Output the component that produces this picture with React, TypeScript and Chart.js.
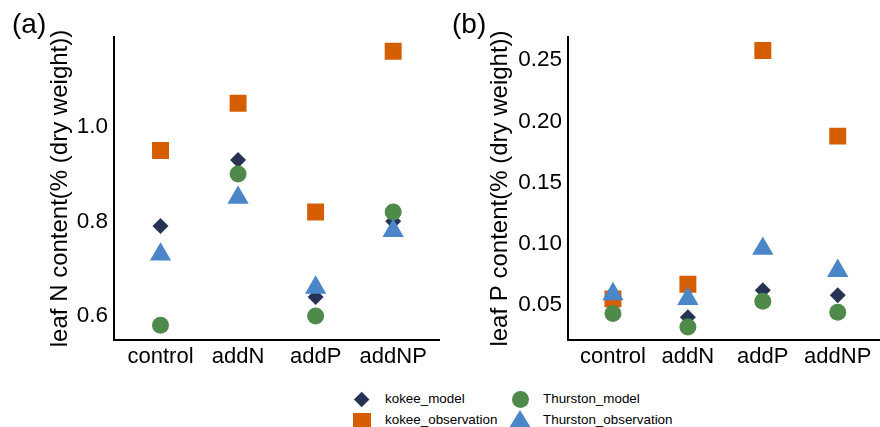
import React, { useEffect, useRef } from "react";
import { Chart, registerables } from "chart.js";

Chart.register(...registerables);

const categories = ["control", "addN", "addP", "addNP"];

// Panel (a): leaf N content
const nKokeeModel = [0.79, 0.93, 0.64, 0.80];
const nKokeeObs = [0.95, 1.05, 0.82, 1.16];
const nThurstonModel = [0.58, 0.90, 0.60, 0.82];
const nThurstonObs = [0.73, 0.85, 0.66, 0.78];
const nTicks = [0.6, 0.8, 1.0];

// Panel (b): leaf P content
const pKokeeModel = [0.055, 0.040, 0.062, 0.058];
const pKokeeObs = [0.055, 0.067, 0.258, 0.188];
const pThurstonModel = [0.043, 0.032, 0.053, 0.044];
const pThurstonObs = [0.059, 0.055, 0.096, 0.078];
const pTicks = [0.05, 0.10, 0.15, 0.20, 0.25];

const seriesNames = ["kokee_model", "kokee_observation", "Thurston_model", "Thurston_observation"];

const COLORS = {
  kokeeModel: "#263355",
  kokeeObs: "#D55E00",
  thurstonModel: "#4F8A4B",
  thurstonObs: "#4A86C8",
};

const FONT = "'Liberation Sans', Arial, sans-serif";

function toPoints(vals: number[]) {
  return vals.map((v, i) => ({ x: i + 1, y: v }));
}

type PanelProps = {
  km: number[];
  ko: number[];
  tm: number[];
  to: number[];
  yMin: number;
  yMax: number;
  ticks: number[];
  decimals: number;
  title: string;
  yAxisWidth: number;
  canvasWidth: number;
};

function Panel(props: PanelProps) {
  const ref = useRef<HTMLCanvasElement | null>(null);
  useEffect(() => {
    if (!ref.current) return;
    const mk = (label: string, vals: number[], color: string, style: any, radius: number, order: number) => ({
      label,
      data: toPoints(vals),
      pointStyle: style,
      pointRadius: radius,
      pointHoverRadius: radius,
      backgroundColor: color,
      borderColor: color,
      borderWidth: 0,
      showLine: false,
      order,
    });
    const chart = new Chart(ref.current, {
      type: "scatter",
      data: {
        datasets: [
          mk(seriesNames[0], props.km, COLORS.kokeeModel, "rectRot", 8, 4),
          mk(seriesNames[1], props.ko, COLORS.kokeeObs, "rect", 12, 3),
          mk(seriesNames[2], props.tm, COLORS.thurstonModel, "circle", 8.5, 2),
          mk(seriesNames[3], props.to, COLORS.thurstonObs, "triangle", 12.3, 1),
        ] as any,
      },
      options: {
        animation: false,
        responsive: false,
        maintainAspectRatio: false,
        layout: { padding: { top: 37, right: 0, left: 0, bottom: 0 } },
        plugins: { legend: { display: false }, tooltip: { enabled: false } },
        scales: {
          x: {
            type: "linear",
            min: 0.4,
            max: 4.6,
            grid: { display: false, drawTicks: false },
            border: { display: true, color: "#000", width: 2 },
            afterBuildTicks: (scale: any) => {
              scale.ticks = categories.map((_, i) => ({ value: i + 1 }));
            },
            afterFit: (scale: any) => {
              scale.height = 40;
              scale.paddingLeft = 0;
              scale.paddingRight = 0;
              scale.paddingTop = 0;
              scale.paddingBottom = 0;
            },
            ticks: {
              autoSkip: false,
              maxRotation: 0,
              padding: 4,
              color: "#000",
              font: { family: FONT, size: 22 },
              callback: (v: any) => categories[Math.round(Number(v)) - 1] ?? "",
            },
          },
          y: {
            type: "linear",
            min: props.yMin,
            max: props.yMax,
            grid: { display: false, drawTicks: false },
            border: { display: true, color: "#000", width: 2 },
            afterBuildTicks: (scale: any) => {
              scale.ticks = props.ticks.map((t) => ({ value: t }));
            },
            afterFit: (scale: any) => {
              scale.width = props.yAxisWidth;
              scale.paddingLeft = 0;
              scale.paddingRight = 0;
              scale.paddingTop = 0;
              scale.paddingBottom = 0;
            },
            ticks: {
              padding: 6,
              color: "#000",
              font: { family: FONT, size: 22.5 },
              callback: (v: any) => Number(v).toFixed(props.decimals),
            },
            title: {
              display: true,
              text: props.title,
              color: "#000",
              font: { family: FONT, size: 24 },
              padding: { top: 46, bottom: 0 },
            },
          },
        },
      },
    });
    return () => chart.destroy();
  }, []);
  return (
    <canvas
      ref={ref}
      width={props.canvasWidth}
      height={380}
      style={{ width: props.canvasWidth, height: 380, display: "block" }}
    />
  );
}

function LegendItem({ shape, color, label, left, top, textTop }: any) {
  let marker: React.ReactNode = null;
  if (shape === "diamond") {
    marker = (
      <div style={{ position: "absolute", left: -8, top: -8, width: 16, height: 16 }}>
        <div style={{ position: "absolute", left: 2.3, top: 2.3, width: 11.4, height: 11.4, background: color, transform: "rotate(45deg)" }} />
      </div>
    );
  } else if (shape === "square") {
    marker = <div style={{ position: "absolute", left: -9, top: -9, width: 18, height: 18, background: color }} />;
  } else if (shape === "circle") {
    marker = <div style={{ position: "absolute", left: -8.5, top: -8.5, width: 17, height: 17, borderRadius: "50%", background: color }} />;
  } else {
    marker = (
      <div
        style={{
          position: "absolute",
          left: -11.5,
          top: -11,
          width: 0,
          height: 0,
          borderLeft: "11.5px solid transparent",
          borderRight: "11.5px solid transparent",
          borderBottom: `18px solid ${color}`,
        }}
      />
    );
  }
  return (
    <>
      <div style={{ position: "absolute", left: left, top: top, width: 0, height: 0 }}>{marker}</div>
      <div
        style={{
          position: "absolute",
          left: left + 23,
          top: textTop - 8,
          fontFamily: FONT,
          fontSize: 13.4,
          lineHeight: "16px",
          color: "#000",
          whiteSpace: "nowrap",
        }}
      >
        {label}
      </div>
    </>
  );
}

export default function App() {
  return (
    <div style={{ position: "fixed", left: 0, top: 0, width: 880, height: 427, background: "#fff", overflow: "hidden" }}>
      <div style={{ position: "absolute", left: 0, top: 0 }}>
        <Panel
          km={nKokeeModel}
          ko={nKokeeObs}
          tm={nThurstonModel}
          to={nThurstonObs}
          yMin={0.549}
          yMax={1.19}
          ticks={nTicks}
          decimals={1}
          title="leaf N content(% (dry weight))"
          yAxisWidth={114}
          canvasWidth={452}
        />
      </div>
      <div style={{ position: "absolute", left: 440, top: 0 }}>
        <Panel
          km={pKokeeModel}
          ko={pKokeeObs}
          tm={pThurstonModel}
          to={pThurstonObs}
          yMin={0.0214}
          yMax={0.269}
          ticks={pTicks}
          decimals={2}
          title="leaf P content(% (dry weight))"
          yAxisWidth={128}
          canvasWidth={455}
        />
      </div>
      <div style={{ position: "absolute", left: 12, top: 8, fontFamily: FONT, fontSize: 28, lineHeight: "32px", color: "#000" }}>(a)</div>
      <div style={{ position: "absolute", left: 452, top: 8, fontFamily: FONT, fontSize: 28, lineHeight: "32px", color: "#000" }}>(b)</div>
      <LegendItem shape="diamond" color={COLORS.kokeeModel} label={seriesNames[0]} left={362} top={400} textTop={399} />
      <LegendItem shape="square" color={COLORS.kokeeObs} label={seriesNames[1]} left={362} top={422} textTop={420} />
      <LegendItem shape="circle" color={COLORS.thurstonModel} label={seriesNames[2]} left={520} top={399} textTop={399} />
      <LegendItem shape="triangle" color={COLORS.thurstonObs} label={seriesNames[3]} left={520} top={421} textTop={420} />
    </div>
  );
}
